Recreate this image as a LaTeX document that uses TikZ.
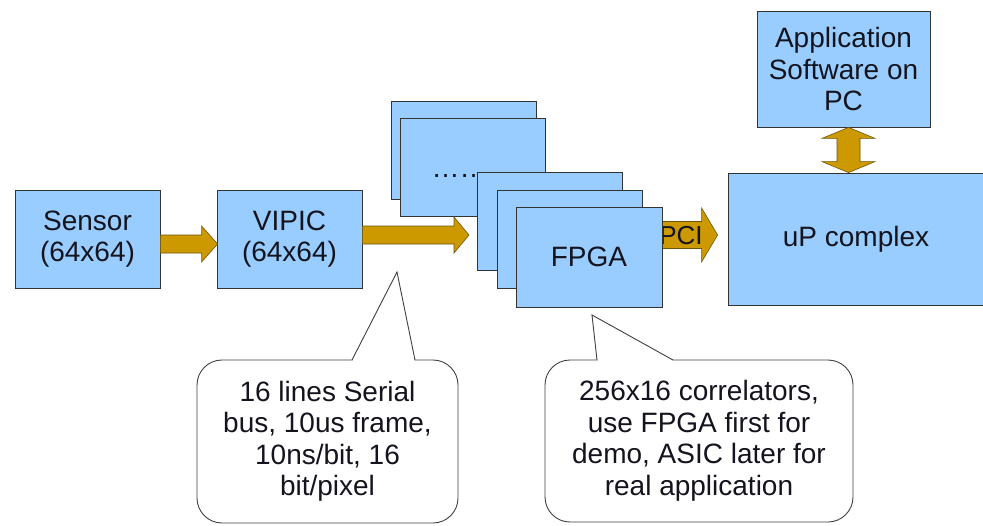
\documentclass[tikz,border=0pt]{standalone}
\usepackage{fontspec}
\setmainfont{Liberation Sans}
\usetikzlibrary{calc}
\definecolor{boxblue}{RGB}{153,204,255}
\definecolor{gold}{RGB}{204,153,0}
\definecolor{goldedge}{RGB}{110,85,10}
\definecolor{textc}{RGB}{20,20,30}
\pgfdeclarelayer{bg}
\pgfsetlayers{bg,main}
\newcommand\hblock[5]{%
  \draw[blockarrow] let \p1=(#1), \p2=(#2) in
   (\x1,{\y2+#3}) -- ({\x2-#5},{\y2+#3}) -- ({\x2-#5},{\y2+#4}) -- (\x2,\y2)
   -- ({\x2-#5},{\y2-#4}) -- ({\x2-#5},{\y2-#3}) -- (\x1,{\y2-#3}) -- cycle;}
\begin{document}
\begin{tikzpicture}[x=1pt,y=-1pt,
  blk/.style={draw=black!80, line width=0.8pt, fill=boxblue, minimum width=145pt,
    minimum height=98pt, inner sep=0pt, align=center, text=textc,
    font=\fontsize{28}{31.5}\selectfont},
  blockarrow/.style={fill=gold, draw=goldedge, line width=0.6pt, line join=miter},
  note/.style={draw=black!75, line width=0.9pt, fill=white, rounded corners=25pt,
    inner sep=0pt, align=center, text=textc, font=\fontsize{28}{31.5}\selectfont},
  pointer/.style={draw=black!75, line width=0.9pt, line join=miter}]
\useasboundingbox (0,0) rectangle (983,525);
\begin{pgfonlayer}{bg}
  \fill[white] (0,0) rectangle (983,525);
\end{pgfonlayer}

% main chain
\node[blk] (sensor) at (87.5,239) {Sensor\\(64x64)};
\node[blk] (vipic) at (289.5,239) {VIPIC\\(64x64)};

% stacked boards
\node[blk] (bA) at (463.5,150) {};
\node[blk] (bB) at (473,167.5) {};
\node[anchor=base west, text=textc, font=\fontsize{28}{31.5}\selectfont] (dots) at (428,177) {……};
\node[blk] (bC) at (549.5,221.5) {};
\node[blk] (bD) at (569.5,239) {};
\node[blk, minimum width=146pt, minimum height=100pt] (fpga) at (589,257) {FPGA};

% right side
\node[blk, minimum width=173pt, minimum height=116pt] (app) at (843.5,69) {Application\\Software on\\PC};
\node[blk, minimum width=256pt, minimum height=132pt] (up) at (856,239) {uP complex};

% arrows
\hblock{sensor.east}{$(vipic.west)+(1,5)$}{9pt}{18pt}{16pt}
\coordinate (busend) at (469,235);
\hblock{vipic.east}{busend}{9pt}{18pt}{15pt}
\begin{pgfonlayer}{bg}
  \hblock{$(fpga.east)+(-22,-22)$}{$(up.west)+(-10,-4)$}{13.5pt}{27pt}{16pt}
  \node[text=textc, font=\fontsize{26}{30}\selectfont] (pci) at (681,236) {PCI};
\end{pgfonlayer}
\draw[blockarrow] let \p1=($(app.south)+(5,0)$), \p2=(up.north) in
  (\x1,\y1) -- ({\x1+26.5pt},{\y1-11pt}) -- ({\x1+11.5pt},{\y1-11pt})
  -- ({\x1+11.5pt},{\y2+11pt}) -- ({\x1+26.5pt},{\y2+11pt}) -- (\x1,\y2)
  -- ({\x1-26.5pt},{\y2+11pt}) -- ({\x1-11.5pt},{\y2+11pt})
  -- ({\x1-11.5pt},{\y1-11pt}) -- ({\x1-26.5pt},{\y1-11pt}) -- cycle;

% callouts
\node[note, minimum width=261pt, minimum height=163pt] (note1) at (327.5,441.5)
  {16 lines Serial\\bus, 10us frame,\\10ns/bit, 16\\bit/pixel};
\coordinate (tip1) at (397,272);
\fill[white] (352.5,360) -- (tip1) -- (414.5,360) -- (414.5,362) -- (352.5,362) -- cycle;
\draw[pointer] (352,360) -- (tip1) -- (415,360);

\node[note, minimum width=308pt, minimum height=162pt] (note2) at (699,441)
  {256x16 correlators,\\use FPGA first for\\demo, ASIC later for\\real application};
\coordinate (tip2) at (592,315);
\fill[white] (597.5,360) -- (tip2) -- (672.5,360) -- (672.5,362) -- (597.5,362) -- cycle;
\draw[pointer] (597,360) -- (tip2) -- (673,360);
\end{tikzpicture}
\end{document}
